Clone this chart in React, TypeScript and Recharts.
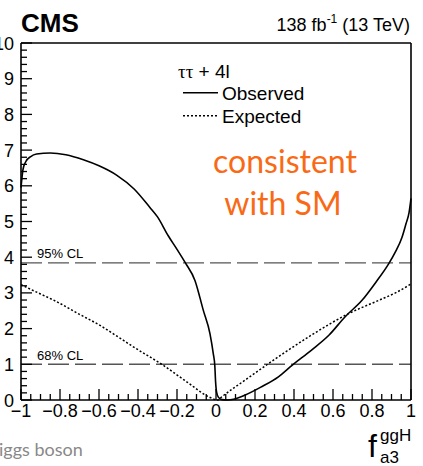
import React from 'react';
import { LineChart, Line, XAxis, YAxis, ReferenceLine } from 'recharts';

// observed -2 delta lnL
const obsX = [-1, -0.99, -0.975, -0.95, -0.92, -0.85, -0.77, -0.68, -0.6, -0.51, -0.42, -0.34, -0.3, -0.245, -0.2, -0.157, -0.108, -0.065, -0.031, -0.014, -0.006, -0.002, 0.003, 0.012, 0.03, 0.06, 0.09, 0.15, 0.23, 0.32, 0.39, 0.49, 0.58, 0.66, 0.75, 0.82, 0.886, 0.92, 0.954, 0.975, 0.99, 1];
const obsY = [5.95, 6.45, 6.68, 6.82, 6.89, 6.92, 6.87, 6.73, 6.56, 6.3, 5.91, 5.4, 5.13, 4.6, 4.22, 3.84, 3.35, 2.51, 1.86, 1.3, 0.95, 0.5, 0.22, 0.08, 0.01, 0, 0.02, 0.14, 0.36, 0.65, 0.97, 1.4, 1.82, 2.32, 2.8, 3.3, 3.82, 4.15, 4.56, 4.95, 5.25, 5.65];

// expected
const expX = [-1, -0.9, -0.83, -0.7, -0.595, -0.5, -0.424, -0.27, -0.15, -0.03, 0.01, 0.03, 0.15, 0.32, 0.49, 0.68, 0.834, 0.92, 1];
const expY = [3.23, 2.97, 2.79, 2.4, 2.09, 1.76, 1.49, 0.97, 0.51, 0.07, 0, 0.09, 0.56, 1.21, 1.82, 2.42, 2.79, 3.0, 3.25];

const xMajorTicks = [-1, -0.8, -0.6, -0.4, -0.2, 0, 0.2, 0.4, 0.6, 0.8, 1];
const xTickLabels = ['\u22121', '\u22120.8', '\u22120.6', '\u22120.4', '\u22120.2', '0', '0.2', '0.4', '0.6', '0.8', '1'];
const yMajorTicks = [0, 1, 2, 3, 4, 5, 6, 7, 8, 9, 10];
const yTickLabels = ['0', '1', '2', '3', '4', '5', '6', '7', '8', '9', '10'];

const clLevels = [1, 3.84];
const clLabels = ['68% CL', '95% CL'];

const observed = obsX.map((x, i) => ({ x, y: obsY[i] }));
const expected = expX.map((x, i) => ({ x, y: expY[i] }));

// minor ticks between the majors
function subdivide(major: number[], n: number) {
  const out: number[] = [];
  for (let i = 0; i < major.length - 1; i++) {
    const step = (major[i + 1] - major[i]) / n;
    for (let k = 0; k < n; k++) out.push(+(major[i] + k * step).toFixed(4));
  }
  out.push(major[major.length - 1]);
  return out;
}
const xAllTicks = subdivide(xMajorTicks, 4);
const yAllTicks = subdivide(yMajorTicks, 5);

const FONT = '"Liberation Sans", Arial, Helvetica, sans-serif';
const idxOf = (arr: number[], v: number) => arr.findIndex((m) => Math.abs(m - v) < 1e-6);

const BottomTick = (props: any) => {
  const { x, y, payload } = props;
  const i = idxOf(xMajorTicks, payload.value);
  return (
    <g>
      <line x1={x} x2={x} y1={y} y2={y - (i >= 0 ? 11 : 6)} stroke="#000" strokeWidth={1.3} />
      {i >= 0 && (
        <text x={x} y={y + 17} textAnchor="middle" fontSize={18} fontFamily={FONT} fill="#000">
          {xTickLabels[i]}
        </text>
      )}
    </g>
  );
};

const TopTick = (props: any) => {
  const { x, y, payload } = props;
  const i = idxOf(xMajorTicks, payload.value);
  return <line x1={x} x2={x} y1={y} y2={y + (i >= 0 ? 10 : 5)} stroke="#000" strokeWidth={1.3} />;
};

const LeftTick = (props: any) => {
  const { x, y, payload } = props;
  const i = idxOf(yMajorTicks, payload.value);
  return (
    <g>
      <line x1={x} x2={x + (i >= 0 ? 11 : 6)} y1={y} y2={y} stroke="#000" strokeWidth={1.3} />
      {i >= 0 && (
        <text x={x - 7} y={y + 6.5} textAnchor="end" fontSize={18} fontFamily={FONT} fill="#000">
          {yTickLabels[i]}
        </text>
      )}
    </g>
  );
};

const RightTick = (props: any) => {
  const { x, y, payload } = props;
  const i = idxOf(yMajorTicks, payload.value);
  return <line x1={x} x2={x - (i >= 0 ? 11 : 6)} y1={y} y2={y} stroke="#000" strokeWidth={1.3} />;
};

const CLLabel = (props: any) => {
  const vb = props.viewBox || {};
  return (
    <text x={vb.x + 16} y={vb.y - 4.5} fontSize={13} fontFamily={FONT} fill="#000">
      {props.text}
    </text>
  );
};

const frame = { stroke: '#000', strokeWidth: 1.6 };

export default function App() {
  return (
    <div style={{ position: 'absolute', left: 0, top: 0, width: 423, height: 466, background: '#fff' }}>
      <LineChart width={423} height={466} margin={{ top: 42, right: 11, bottom: 65, left: 20 }}>
        <XAxis dataKey="x" type="number" domain={[-1, 1]} ticks={xAllTicks} interval={0} height={1}
          tickSize={0} tickMargin={0} tickLine={false} tick={BottomTick} axisLine={frame} />
        <XAxis xAxisId="top" orientation="top" dataKey="x" type="number" domain={[-1, 1]} ticks={xAllTicks}
          interval={0} height={1} tickSize={0} tickMargin={0} tickLine={false} tick={TopTick} axisLine={frame} />
        <YAxis type="number" domain={[0, 10]} ticks={yAllTicks} interval={0} width={1}
          tickSize={0} tickMargin={0} tickLine={false} tick={LeftTick} axisLine={frame} />
        <YAxis yAxisId="right" orientation="right" type="number" domain={[0, 10]} ticks={yAllTicks} interval={0}
          width={1} tickSize={0} tickMargin={0} tickLine={false} tick={RightTick} axisLine={frame} />
        {clLevels.map((v, i) => (
          <ReferenceLine key={v} y={v} stroke="#555" strokeWidth={1.4} strokeDasharray="21 6"
            label={<CLLabel text={clLabels[i]} />} />
        ))}
        <Line data={expected} dataKey="y" type="monotone" stroke="#000" strokeWidth={1.5}
          strokeDasharray="2 2" dot={false} isAnimationActive={false} />
        <Line data={observed} dataKey="y" type="monotone" stroke="#000" strokeWidth={1.6}
          dot={false} isAnimationActive={false} />
      </LineChart>
      <svg width={423} height={466} style={{ position: 'absolute', left: 0, top: 0, pointerEvents: 'none' }}>
        <text x={21} y={32} fontSize={26} fontWeight="bold" fontFamily={FONT}>CMS</text>
        <text x={410} y={31} fontSize={18} fontFamily={FONT} textAnchor="end">
          138 fb<tspan fontSize={12} dy={-8}>-1</tspan>
          <tspan dy={8}> (13 TeV)</tspan>
        </text>
        <text x={178} y={78} fontSize={19} fontFamily={FONT}>
          <tspan fontFamily='"Liberation Serif", "DejaVu Serif", serif'>ττ</tspan> + 4l
        </text>
        <line x1={183} x2={218} y1={92.7} y2={92.7} stroke="#000" strokeWidth={1.6} />
        <text x={222} y={100} fontSize={19} fontFamily={FONT}>Observed</text>
        <line x1={183} x2={218} y1={115.7} y2={115.7} stroke="#000" strokeWidth={1.5} strokeDasharray="2 2" />
        <text x={222} y={123} fontSize={19} fontFamily={FONT}>Expected</text>
        <text x={285} y={173} fontSize={32} fontFamily="Lato, sans-serif" fill="#f96a16" textAnchor="middle">consistent</text>
        <text x={283} y={215} fontSize={32} fontFamily="Lato, sans-serif" fill="#f96a16" textAnchor="middle">with SM</text>
        <text x={-1} y={456} fontSize={18} fontFamily="Lato, sans-serif" fill="#888">iggs boson</text>
        <text x={368} y={457} fontSize={32} fontFamily={FONT}>f</text>
        <text x={380} y={441} fontSize={17} fontFamily={FONT}>ggH</text>
        <text x={380} y={463} fontSize={17} fontFamily={FONT}>a3</text>
      </svg>
    </div>
  );
}
